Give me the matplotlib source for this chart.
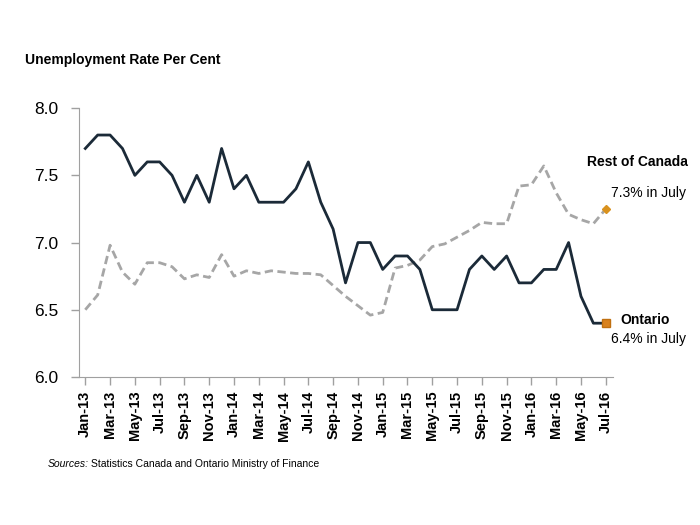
import matplotlib.pyplot as plt
import numpy as np

month_labels = ["Jan-13", "Feb-13", "Mar-13", "Apr-13", "May-13", "Jun-13", "Jul-13", "Aug-13",
                "Sep-13", "Oct-13", "Nov-13", "Dec-13", "Jan-14", "Feb-14", "Mar-14", "Apr-14",
                "May-14", "Jun-14", "Jul-14", "Aug-14", "Sep-14", "Oct-14", "Nov-14", "Dec-14",
                "Jan-15", "Feb-15", "Mar-15", "Apr-15", "May-15", "Jun-15", "Jul-15", "Aug-15",
                "Sep-15", "Oct-15", "Nov-15", "Dec-15", "Jan-16", "Feb-16", "Mar-16", "Apr-16",
                "May-16", "Jun-16", "Jul-16"]

ontario = [7.7, 7.8, 7.8, 7.7, 7.5, 7.6, 7.6, 7.5, 7.3, 7.5, 7.3, 7.7,
           7.4, 7.5, 7.3, 7.3, 7.3, 7.4, 7.6, 7.3, 7.1, 6.7, 7.0, 7.0,
           6.8, 6.9, 6.9, 6.8, 6.5, 6.5, 6.5, 6.8, 6.9, 6.8, 6.9, 6.7,
           6.7, 6.8, 6.8, 7.0, 6.6, 6.4, 6.4]

rest_of_canada = [6.50, 6.61, 6.98, 6.78, 6.69, 6.85, 6.85, 6.82, 6.73, 6.76, 6.74, 6.91,
                  6.75, 6.79, 6.77, 6.79, 6.78, 6.77, 6.77, 6.76, 6.68, 6.60, 6.53, 6.46,
                  6.48, 6.81, 6.83, 6.87, 6.97, 6.99, 7.04, 7.09, 7.15, 7.14, 7.14, 7.42,
                  7.43, 7.57, 7.37, 7.21, 7.17, 7.14, 7.25]

plt.rcParams["font.family"] = ["Liberation Sans", "DejaVu Sans"]

x = np.arange(len(month_labels))

fig = plt.figure(figsize=(7, 5.25), dpi=100)
ax = fig.add_axes([0.113, 0.282, 0.763, 0.512])

ax.plot(x, rest_of_canada, color="#A6A6A6", lw=2, ls=(0, (3, 1.6)))
ax.plot(x, ontario, color="#1B2A38", lw=2)
ax.plot(x[-1], ontario[-1], marker="s", ms=6, color="#D9821E", mec="#C07010")
ax.plot(x[-1], rest_of_canada[-1], marker="D", ms=4.5, color="#D9921E")

ax.set_xlim(-0.5, 42.6)
ax.set_ylim(6.0, 8.0)
ax.set_yticks([6.0, 6.5, 7.0, 7.5, 8.0])
ax.set_yticklabels(["6.0", "6.5", "7.0", "7.5", "8.0"], fontsize=12.5)
ax.set_xticks(x[::2])
ax.set_xticklabels(month_labels[::2], rotation=90, fontsize=10.5, fontweight="bold")
ax.set_xticks(x, minor=True)
ax.tick_params(axis="x", which="minor", length=0)

for side in ["top", "right"]:
    ax.spines[side].set_visible(False)
for side in ["left", "bottom"]:
    ax.spines[side].set_color("#A0A0A0")
ax.tick_params(axis="both", which="major", color="#A0A0A0", length=6, width=1)
ax.tick_params(axis="y", pad=9)
ax.tick_params(axis="x", pad=4)

fig.text(0.036, 0.886, "Unemployment Rate Per Cent", fontsize=10, fontweight="bold", va="center")

fig.text(0.983, 0.691, "Rest of Canada", fontsize=10, fontweight="bold", ha="right", va="center")
fig.text(0.98, 0.632, "7.3% in July", fontsize=10, ha="right", va="center")
fig.text(0.957, 0.39, "Ontario", fontsize=10, fontweight="bold", ha="right", va="center")
fig.text(0.98, 0.354, "6.4% in July", fontsize=10, ha="right", va="center")

fig.text(0.068, 0.117, "Sources:", fontsize=7.5, style="italic", va="center")
fig.text(0.13, 0.117, "Statistics Canada and Ontario Ministry of Finance", fontsize=7.5, va="center")

fig.savefig("out.png", dpi=100)
